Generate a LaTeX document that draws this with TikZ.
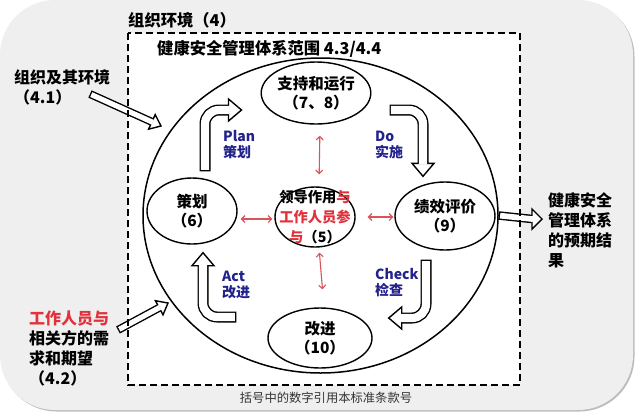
\documentclass[tikz,border=0pt]{standalone}
\usepackage{fontspec}
\setmainfont{Noto Sans CJK SC}
\usetikzlibrary{arrows.meta, positioning, shapes.geometric, calc}
\definecolor{PanelGray}{HTML}{EFEFEF}
\definecolor{PanelShade}{HTML}{BDBDBD}
\definecolor{LeadRed}{HTML}{E2313B}
\definecolor{LinkRed}{HTML}{D9545A}
\definecolor{PdcaBlue}{HTML}{22228C}
\definecolor{NoteGray}{HTML}{333333}

% hollow block arrow: outer/inner width, head length/half width, tail, path op, tip, direction
\newcommand\blockarrow[8]{%
  \draw[line width=#1, rounded corners=14pt] (#5) #6 ($(#7)+(#8+180:#3)$);
  \filldraw[blockhead] (#7) -- ($(#7)+(#8+180:#3)+(#8+90:#4)$)
    -- ($(#7)+(#8+180:#3)+(#8-90:#4)$) -- cycle;
  \draw[white, line width=#2, rounded corners=14pt, shorten <=1.4pt, shorten >=-1pt]
    (#5) #6 ($(#7)+(#8+180:#3)$);
}

\begin{document}
\begin{tikzpicture}[
            x=1pt, y=-1pt,
            font=\bfseries,
            stage/.style={
                ellipse, draw, line width=1.4pt, fill=white,
                inner sep=0pt, align=center,
                font=\fontsize{15.5}{19}\selectfont\bfseries
            },
            system/.style={ellipse, draw, line width=1.5pt, inner sep=0pt},
            scopebox/.style={draw, line width=1.6pt, dash pattern=on 7pt off 4pt},
            heading/.style={anchor=west, inner sep=0pt, font=\fontsize{16.3}{18}\selectfont\bfseries},
            side/.style={anchor=west, align=left, inner sep=0pt, font=\fontsize{16}{20}\selectfont\bfseries},
            pdca/.style={anchor=west, align=left, inner sep=0pt, text=PdcaBlue, font=\fontsize{14}{16}\selectfont\bfseries},
            link/.style={LinkRed, line width=1.1pt, {Straight Barb[length=3.5pt,width=7pt]}-{Straight Barb[length=3.5pt,width=7pt]}},
            blockhead/.style={fill=white, draw=black, line width=1.4pt, line join=miter},
            note/.style={inner sep=0pt, text=NoteGray, font=\fontsize{12.3}{14}\selectfont\mdseries}
        ]
        \useasboundingbox (0,0) rectangle (640,416);

        % --- Panel and scope frame ---
        \fill[PanelShade, rounded corners=55pt] (1.5,1.5) rectangle (634.5,411.5);
        \fill[PanelGray, rounded corners=55pt] (0,0) rectangle (633,410);
        \fill[white] (128,33) rectangle (520,385);

        % --- OH&S management system ---
        \node[system, minimum width=355pt, minimum height=315pt] (system) at (320.5,215.5) {};
        \node[stage, minimum width=108pt, minimum height=62pt] (support) at (316,93) {支持和运行\\（7、8）};
        \node[stage, minimum width=90pt, minimum height=66pt] (planning) at (192,211) {策划\\（6）};
        \node[stage, minimum width=100pt, minimum height=68pt] (perform) at (445,216) {绩效评价\\（9）};
        \node[stage, minimum width=104pt, minimum height=60pt] (improve) at (320,338) {改进\\（10）};
        \node[stage, minimum width=80pt, minimum height=60pt,
              label={[align=center, inner sep=0pt, font=\fontsize{14.3}{20}\selectfont\bfseries]center:%
              领导作用\textcolor{LeadRed}{与}\\\textcolor{LeadRed}{工作人员参}\\\textcolor{LeadRed}{与}（5）}]
              (leader) at (315,217) {};

        % --- Leadership links ---
        \draw[link, shorten <=12pt, shorten >=11pt] ([xshift=4pt]leader.north) -- ([xshift=4pt]support.south);
        \draw[link, shorten <=12pt, shorten >=1pt] (leader.east) -- (leader.east -| perform.west);
        \draw[link, shorten <=5pt, shorten >=18pt] ([xshift=4pt]leader.south) -- ([xshift=4pt]improve.north);
        \draw[link, shorten <=2pt, shorten >=3pt] ([yshift=-2pt]leader.west) -- ([yshift=-2pt]leader.west -| planning.east);

        % --- PDCA cycle ---
        \coordinate (plan tail) at ([xshift=13pt,yshift=6pt]planning.north);
        \coordinate (plan tip) at ([xshift=-19pt,yshift=-17pt]support.west);
        \coordinate (do tail) at ([xshift=18pt,yshift=-17pt]support.east);
        \coordinate (do tip) at ([xshift=-22pt,yshift=5pt]perform.north);
        \coordinate (check tail) at ([xshift=-19pt,yshift=-9pt]perform.south);
        \coordinate (check tip) at ([xshift=16pt,yshift=20pt]improve.east);
        \coordinate (act tail) at ([xshift=-31pt,yshift=21pt]improve.west);
        \coordinate (act tip) at ([xshift=11pt,yshift=-8pt]planning.south);

        \blockarrow{11pt}{8.2pt}{13pt}{11pt}{plan tail}{|-}{plan tip}{0}
        \blockarrow{11pt}{8.2pt}{13pt}{11pt}{do tail}{-|}{do tip}{-90}
        \blockarrow{11pt}{8.2pt}{13pt}{11pt}{check tail}{|-}{check tip}{180}
        \blockarrow{11pt}{8.2pt}{13pt}{11pt}{act tail}{-|}{act tip}{90}

        \node[pdca] (plan label) at (223,145) {Plan\\策划};
        \node[pdca] (do label) at (375,145) {Do\\实施};
        \node[pdca] (act label) at (222,285) {Act\\改进};
        \node[pdca] (check label) at (375,283) {Check\\检查};

        % --- Context, inputs and outcomes ---
        \node[heading] (context) at (128,20) {组织环境（4）};
        \node[heading] (scope) at (157,49) {健康安全管理体系范围\ 4.3/4.4};
        \node[side] (environment) at (14,87) {组织及其环境\\（4.1）};
        \node[side] (needs) at (29,348) {\textcolor{LeadRed}{工作人员与}\\相关方的需\\求和期望\\（4.2）};
        \node[side] (outcomes) at (548,230) {健康安全\\管理体系\\的预期结\\果};

        \coordinate (env tail) at (90,94);
        \coordinate (env tip) at (161,126);
        \coordinate (needs tail) at (118,330);
        \coordinate (needs tip) at (168,303);
        \coordinate (out tip) at (542,219);
        \blockarrow{8pt}{5.2pt}{10pt}{8pt}{env tail}{--}{env tip}{-24.3}
        \blockarrow{8pt}{5.2pt}{10pt}{8pt}{needs tail}{--}{needs tip}{28.4}
        \blockarrow{8.5pt}{5.7pt}{10pt}{10pt}{system.east}{--}{out tip}{0}

        \draw[scopebox] (128,33) rectangle (520,385);

        \node[note] (caption) at (326,398) {括号中的数字引用本标准条款号};

        \end{tikzpicture}
\end{document}
